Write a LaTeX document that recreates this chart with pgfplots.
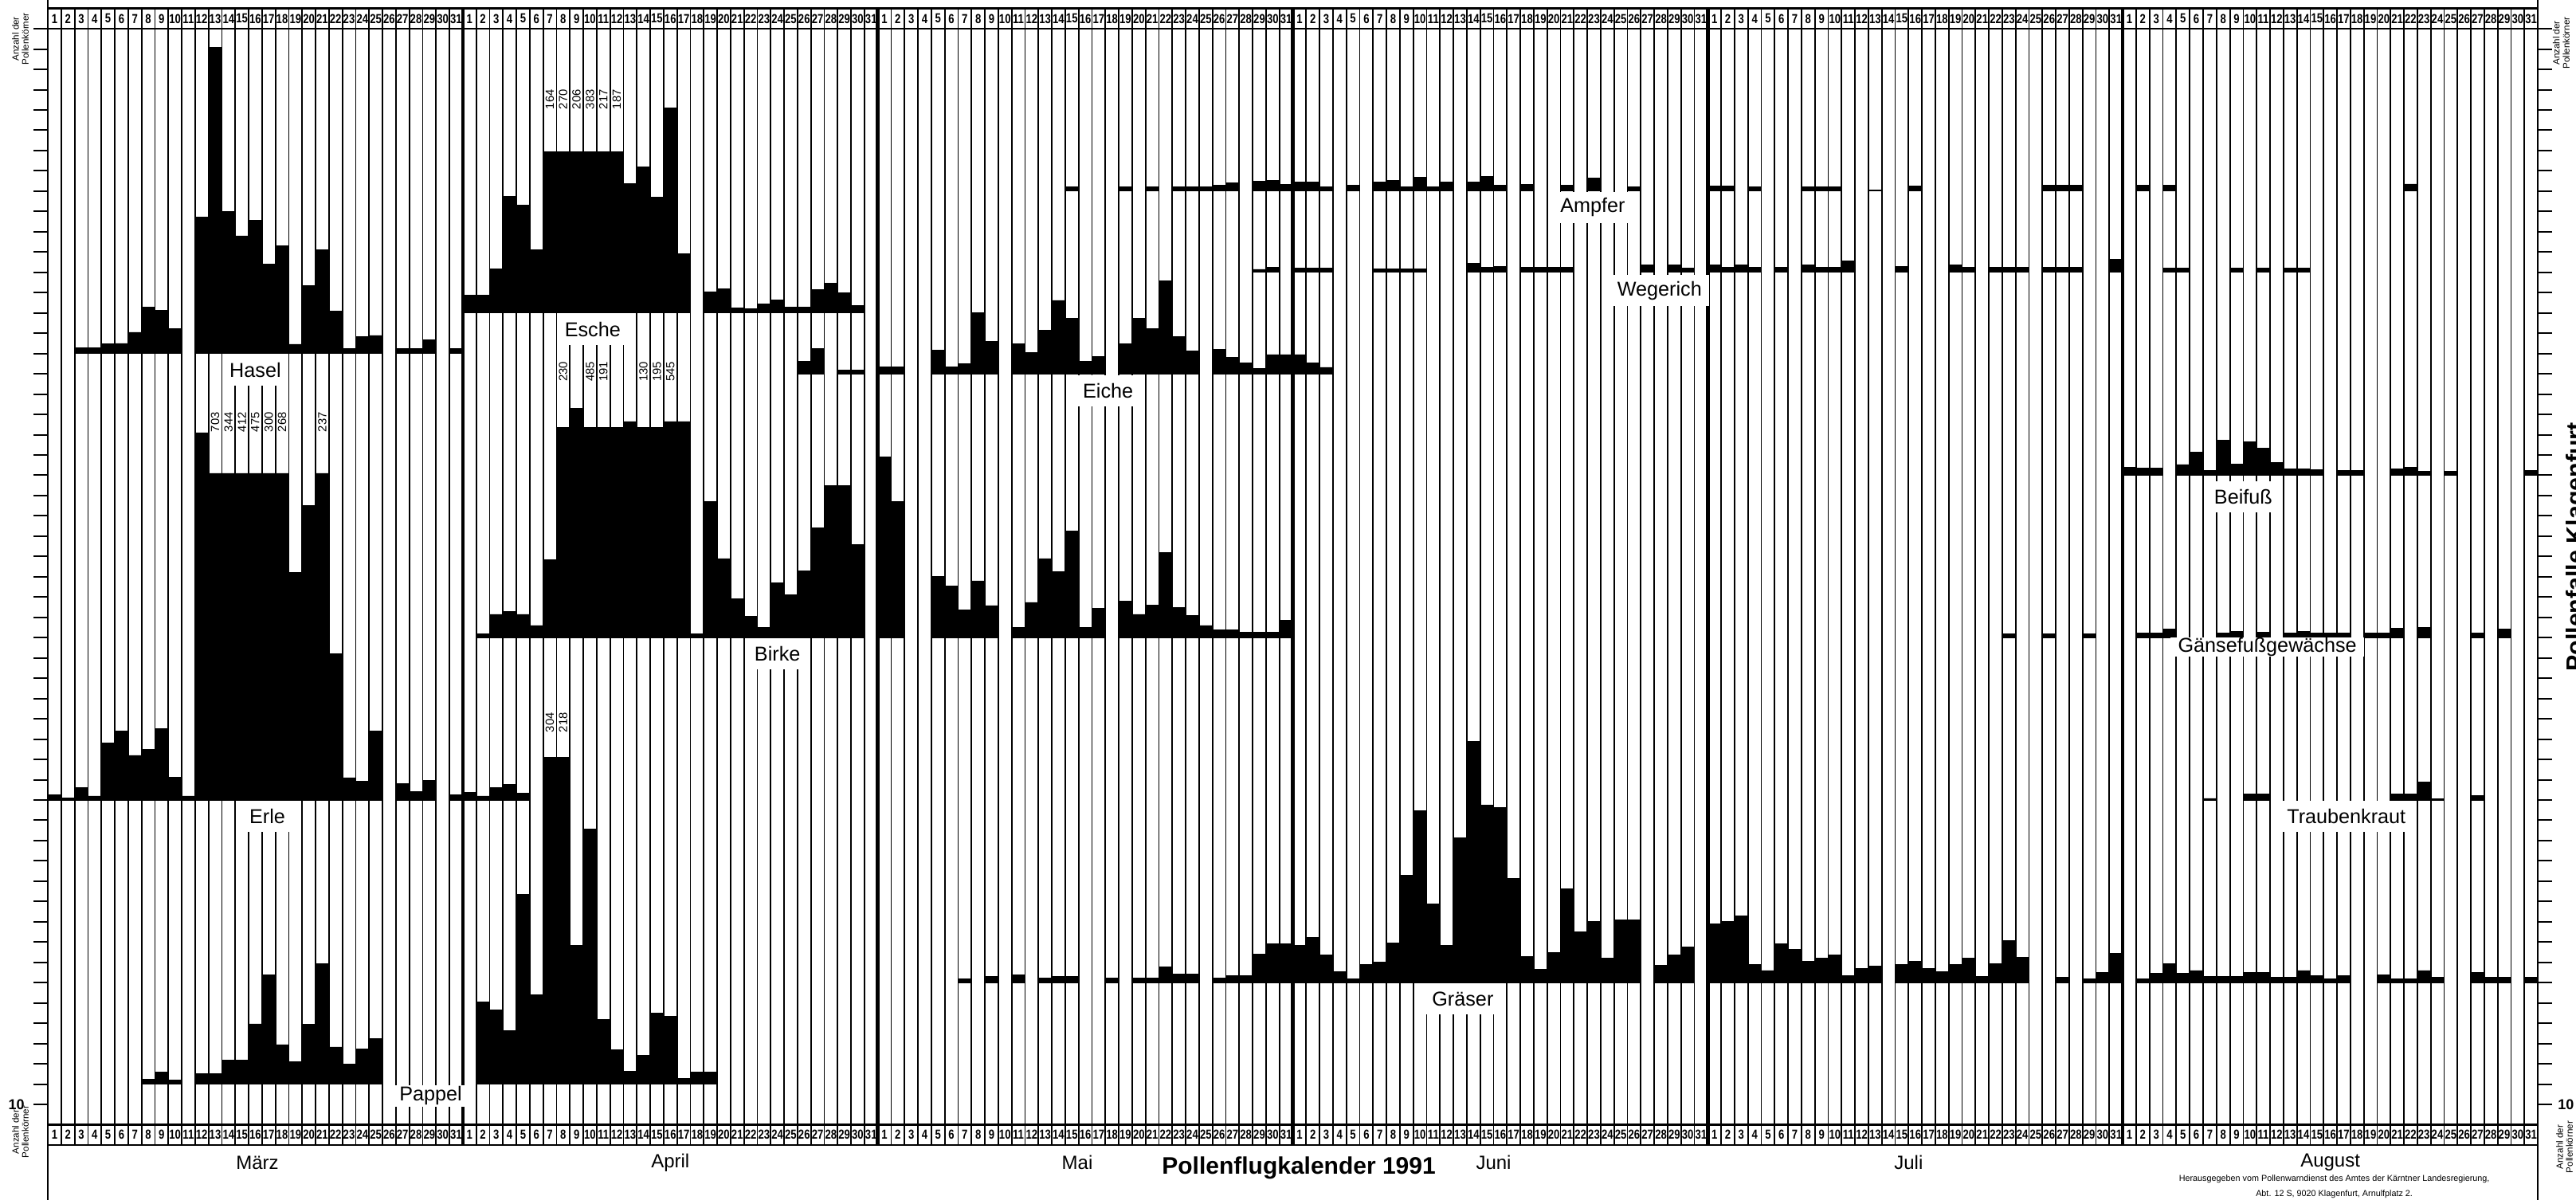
\documentclass[border=0pt]{standalone}
\usepackage{fontspec}
\setmainfont{Liberation Sans}
\newfontfamily\hdrfont[FakeStretch=0.8]{Liberation Sans}
\usepackage{pgfplots}
\pgfplotsset{compat=1.18}
\usepackage{pgfplotstable}

% columns: m = month (0 = Maerz ... 5 = August), d = day, h = bar height (tick units above the row baseline)
\pgfplotstableread{
m d h
0 3 0.29
0 4 0.29
0 5 0.49
0 6 0.5
0 7 1.05
0 8 2.3
0 9 2.12
0 10 1.22
0 12 6.71
0 13 15.1
0 14 6.98
0 15 5.8
0 16 6.56
0 17 4.42
0 18 5.31
0 19 0.46
0 20 3.34
0 21 5.11
0 22 2.1
0 23 0.26
0 24 0.83
0 25 0.89
0 27 0.24
0 28 0.24
0 29 0.68
0 31 0.26
}\hasel
\pgfplotstableread{
m d h
1 1 0.89
1 2 0.89
1 3 2.18
1 4 5.74
1 5 5.32
1 6 3.1
1 7 7.95
1 8 7.95
1 9 7.95
1 10 7.95
1 11 7.95
1 12 7.95
1 13 6.37
1 14 7.19
1 15 5.72
1 16 10.1
1 17 2.9
1 19 1.05
1 20 1.18
1 21 0.23
1 22 0.2
1 23 0.44
1 24 0.63
1 25 0.27
1 26 0.27
1 27 1.14
1 28 1.47
1 29 1.0
1 30 0.38
}\esche
\pgfplotstableread{
m d h
0 1 0.26
0 2 0.1
0 3 0.62
0 4 0.2
0 5 2.8
0 6 3.4
0 7 2.2
0 8 2.5
0 9 3.5
0 10 1.12
0 11 0.2
0 12 18.1
0 13 16.1
0 14 16.1
0 15 16.1
0 16 16.1
0 17 16.1
0 18 16.1
0 19 11.2
0 20 14.5
0 21 16.1
0 22 7.2
0 23 1.1
0 24 0.94
0 25 3.4
0 27 0.79
0 28 0.42
0 29 0.98
0 31 0.26
1 1 0.38
1 2 0.2
1 3 0.6
1 4 0.76
1 5 0.33
}\erle
\pgfplotstableread{
m d h
1 2 0.2
1 3 1.15
1 4 1.28
1 5 1.15
1 6 0.6
1 7 3.85
1 8 10.35
1 9 11.3
1 10 10.35
1 11 10.35
1 12 10.35
1 13 10.65
1 14 10.35
1 15 10.35
1 16 10.65
1 17 10.65
1 18 0.2
1 19 6.7
1 20 3.9
1 21 1.9
1 22 1.05
1 23 0.5
1 24 2.7
1 25 2.1
1 26 3.3
1 27 5.4
1 28 7.5
1 29 7.5
1 30 4.6
2 1 8.9
2 2 6.7
2 5 3.0
2 6 2.55
2 7 1.37
2 8 2.8
2 9 1.58
2 11 0.5
2 12 1.74
2 13 3.9
2 14 3.26
2 15 5.26
2 16 0.5
2 17 1.45
2 19 1.8
2 20 1.15
2 21 1.6
2 22 4.2
2 23 1.5
2 24 1.1
2 25 0.6
2 26 0.4
2 27 0.4
2 28 0.26
2 29 0.26
2 30 0.26
2 31 0.85
}\birke
\pgfplotstableread{
m d h
4 23 0.2
4 26 0.2
4 29 0.2
5 2 0.22
5 3 0.22
5 4 0.41
5 8 0.22
5 9 0.32
5 11 0.28
5 13 0.22
5 14 0.32
5 15 0.22
5 16 0.22
5 17 0.22
5 19 0.22
5 20 0.22
5 21 0.45
5 23 0.5
5 27 0.22
5 29 0.41
}\gaense
\pgfplotstableread{
m d h
5 7 0.08
5 10 0.3
5 11 0.3
5 21 0.28
5 22 0.28
5 23 0.9
5 24 0.06
5 27 0.22
}\trauben
\pgfplotstableread{
m d h
1 26 0.6
1 27 1.24
1 29 0.19
1 30 0.19
2 1 0.34
2 2 0.34
2 5 1.18
2 6 0.34
2 7 0.51
2 8 3.0
2 9 1.6
2 11 1.47
2 12 1.03
2 13 2.15
2 14 3.62
2 15 2.74
2 16 0.61
2 17 0.86
2 19 1.47
2 20 2.74
2 21 2.23
2 22 4.57
2 23 1.85
2 24 1.12
2 26 1.22
2 27 0.8
2 28 0.53
2 29 0.25
2 30 0.95
2 31 0.95
3 1 0.95
3 2 0.53
3 3 0.32
}\eiche
\pgfplotstableread{
m d h
2 15 0.2
2 19 0.2
2 21 0.2
2 23 0.2
2 24 0.2
2 25 0.2
2 26 0.3
2 27 0.4
2 29 0.5
2 30 0.53
2 31 0.34
3 1 0.44
3 2 0.44
3 3 0.2
3 5 0.3
3 7 0.45
3 8 0.53
3 9 0.2
3 10 0.7
3 11 0.23
3 12 0.44
3 14 0.44
3 15 0.72
3 16 0.3
3 18 0.32
3 21 0.3
3 23 0.63
3 26 0.23
4 1 0.25
4 2 0.25
4 4 0.2
4 8 0.2
4 9 0.2
4 10 0.2
4 13 0.06
4 16 0.25
4 26 0.3
4 27 0.3
4 28 0.3
5 2 0.3
5 4 0.28
5 22 0.35
}\ampfer
\pgfplotstableread{
m d h
2 29 0.15
2 30 0.25
3 1 0.2
3 2 0.2
3 3 0.2
3 7 0.17
3 8 0.17
3 9 0.17
3 10 0.17
3 14 0.45
3 15 0.25
3 16 0.3
3 18 0.25
3 19 0.25
3 20 0.25
3 21 0.25
3 27 0.35
3 29 0.35
3 30 0.2
4 1 0.38
4 2 0.25
4 3 0.35
4 4 0.25
4 6 0.25
4 8 0.38
4 9 0.25
4 10 0.25
4 11 0.55
4 15 0.3
4 19 0.36
4 20 0.25
4 22 0.25
4 23 0.25
4 24 0.25
4 26 0.25
4 27 0.25
4 28 0.25
4 31 0.65
5 4 0.2
5 5 0.2
5 9 0.2
5 11 0.2
5 13 0.2
5 14 0.2
}\wegerich
\pgfplotstableread{
m d h
5 1 0.38
5 2 0.34
5 3 0.34
5 5 0.53
5 6 1.13
5 7 0.23
5 8 1.73
5 9 0.56
5 10 1.65
5 11 1.35
5 12 0.62
5 13 0.32
5 14 0.32
5 15 0.28
5 17 0.23
5 18 0.23
5 21 0.32
5 22 0.38
5 23 0.19
5 25 0.19
5 31 0.23
}\beifuss
\pgfplotstableread{
m d h
2 7 0.2
2 9 0.3
2 11 0.38
2 13 0.24
2 14 0.3
2 15 0.3
2 18 0.24
2 20 0.24
2 21 0.24
2 22 0.79
2 23 0.44
2 24 0.44
2 26 0.24
2 27 0.34
2 28 0.34
2 29 1.39
2 30 1.92
2 31 1.92
3 1 1.82
3 2 2.22
3 3 1.35
3 4 0.55
3 5 0.2
3 6 0.89
3 7 1.02
3 8 1.96
3 9 5.3
3 10 8.46
3 11 3.88
3 12 1.82
3 13 7.15
3 14 11.9
3 15 8.73
3 16 8.63
3 17 5.13
3 18 1.29
3 19 0.65
3 20 1.5
3 21 4.63
3 22 2.5
3 23 3.0
3 24 1.21
3 25 3.1
3 26 3.1
3 28 0.85
3 29 1.35
3 30 1.76
4 1 2.9
4 2 3.0
4 3 3.3
4 4 0.9
4 5 0.6
4 6 1.9
4 7 1.65
4 8 1.05
4 9 1.2
4 10 1.35
4 11 0.35
4 12 0.7
4 13 0.8
4 15 0.9
4 16 1.05
4 17 0.7
4 18 0.55
4 19 0.9
4 20 1.2
4 21 0.3
4 22 0.95
4 23 2.06
4 24 1.25
4 27 0.25
4 29 0.2
4 30 0.5
4 31 1.45
5 2 0.2
5 3 0.46
5 4 0.95
5 5 0.46
5 6 0.6
5 7 0.3
5 8 0.3
5 9 0.3
5 10 0.5
5 11 0.5
5 12 0.28
5 13 0.28
5 14 0.6
5 15 0.36
5 16 0.2
5 17 0.33
5 20 0.38
5 21 0.2
5 22 0.2
5 23 0.6
5 24 0.25
5 27 0.5
5 28 0.25
5 29 0.25
5 31 0.25
}\graeser
\pgfplotstableread{
m d h
0 8 0.24
0 9 0.6
0 10 0.21
0 12 0.52
0 13 0.52
0 14 1.2
0 15 1.2
0 16 2.97
0 17 5.4
0 18 1.95
0 19 1.12
0 20 2.94
0 21 5.92
0 22 1.83
0 23 0.97
0 24 1.73
0 25 2.26
1 2 4.05
1 3 3.65
1 4 2.64
1 5 9.35
1 6 4.41
1 7 16.1
1 8 16.1
1 9 6.85
1 10 12.56
1 11 3.2
1 12 1.7
1 13 0.64
1 14 1.42
1 15 3.5
1 16 3.36
1 17 0.29
1 18 0.6
1 19 0.6
}\pappel

\pgfplotsset{
  lay/.style={at={(15pt,-359.25pt)}, anchor=south west, scale only axis,
    width=781.25pt, height=356.58pt, xmin=0, xmax=186, clip=false},
  spc/.style={ybar, bar width=1, fill=black, draw=black, line width=0.2pt},
}
\tikzset{
  hdr/.style={inner sep=0pt, font=\hdrfont\bfseries\fontsize{4.1}{4.5}\selectfont},
  num/.style={rotate=90, anchor=west, inner sep=0pt, font=\fontsize{3.7}{4}\selectfont},
  lab/.style={fill=white, inner xsep=2.4pt, inner ysep=0pt, minimum height=#1,
    font=\fontsize{6.3}{7}\selectfont},
  lab/.default=9.8pt,
  small/.style={rotate=90, align=center, inner sep=0pt, font=\fontsize{2.9}{3.1}\selectfont},
}
% #1 ymin, #2 ymax (row baseline at 0), #3 table
\newcommand\species[3]{%
  \begin{axis}[lay, hide axis, ymin=#1, ymax=#2]
    \addplot[spc] table[x expr=31*\thisrow{m}+\thisrow{d}-0.5, y=h]{#3};
  \end{axis}}

\begin{document}
\begin{tikzpicture}
\useasboundingbox (0,0) rectangle (808.25pt,-376.5pt);
% ---------- frame, day columns, header rows ----------
\begin{axis}[lay, ymin=-2, ymax=54, xtick=\empty,
  ytick={0,...,53}, yticklabels={}, tick align=outside, major tick length=4.5pt,
  tick style={line width=0.5pt, black}, axis line style={line width=0.6pt}]
  \addplot[draw=none] coordinates {(0,0)};
  \pgfplotsinvokeforeach{0,...,186}{\draw[line width=0.45pt] (axis cs:#1,-2) -- (axis cs:#1,54);}
  \pgfplotsinvokeforeach{31,62,93,124,155}{\draw[line width=1.1pt] (axis cs:#1,-2) -- (axis cs:#1,54);}
  \draw[line width=0.6pt] (axis cs:0,53) -- (axis cs:186,53);
  \draw[line width=0.6pt] (axis cs:0,-1) -- (axis cs:186,-1);
  \draw[line width=0.6pt] (axis cs:0,54.42) -- (axis cs:0,-4.72);
  \draw[line width=0.6pt] (axis cs:186,54.42) -- (axis cs:186,-4.72);
  \pgfplotsinvokeforeach{0,...,185}{%
    \node[hdr] at (axis cs:#1.5,53.5) {\pgfmathtruncatemacro\dd{mod(#1,31)+1}\dd};
    \node[hdr] at (axis cs:#1.5,-1.5) {\pgfmathtruncatemacro\dd{mod(#1,31)+1}\dd};
  }
  % months and titles
  \begin{scope}[every node/.style={font=\fontsize{6}{7}\selectfont}]
    \node at (axis cs:15.65,-2.87) {März};
    \node at (axis cs:46.5,-2.87) {April};
    \node at (axis cs:76.9,-2.87) {Mai};
    \node at (axis cs:108.0,-2.87) {Juni};
    \node at (axis cs:139.0,-2.87) {Juli};
    \node at (axis cs:170.5,-2.87) {August};
  \end{scope}
  \node[font=\bfseries\fontsize{7.5}{8}\selectfont] at (axis cs:93.45,-3.14) {Pollenflugkalender 1991};
  \node[font=\fontsize{2.7}{3}\selectfont] at (axis cs:170.8,-3.69) {Herausgegeben vom Pollenwarndienst des Amtes der Kärntner Landesregierung,};
  \node[font=\fontsize{2.7}{3}\selectfont] at (axis cs:170.8,-4.42) {Abt. 12 S, 9020 Klagenfurt, Arnulfplatz 2.};
  % side labels
  \node[small] at (axis cs:-2.05,52.5) {Anzahl der\\Pollenkörner};
  \node[small] at (axis cs:-2.05,-1.35) {Anzahl der\\Pollenkörner};
  \node[small] at (axis cs:187.75,52.3) {Anzahl der\\Pollenkörner};
  \node[small] at (axis cs:188.0,-2.1) {Anzahl der\\Pollenkörner};
  \node[font=\bfseries\fontsize{4.5}{5}\selectfont] at (axis cs:-2.35,0) {10};
  \node[font=\bfseries\fontsize{4.5}{5}\selectfont] at (axis cs:188.1,0) {10};
  \node[rotate=90, anchor=base west, inner sep=0pt, overlay,
        font=\bfseries\fontsize{7.6}{8}\selectfont] at (axis cs:189.45,21.3) {Pollenfalle Klagenfurt};
\end{axis}
% ---------- species rows (each row drawn from its own baseline) ----------
\species{-3}{53}{\pappel}
\species{-8}{48}{\graeser}
\species{-17}{39}{\erle}
\species{-17}{39}{\trauben}
\species{-25}{31}{\birke}
\species{-25}{31}{\gaense}
\species{-33}{23}{\beifuss}
\species{-38}{18}{\eiche}
\species{-39}{17}{\hasel}
\species{-41}{15}{\esche}
\species{-43}{13}{\wegerich}
\species{-47}{9}{\ampfer}
% ---------- labels and overflow values ----------
\begin{axis}[lay, hide axis, ymin=-2, ymax=54]
  \addplot[draw=none] coordinates {(0,0)};
  \node[lab] at (axis cs:15.5,36.2) {Hasel};
  \node[lab] at (axis cs:40.7,38.2) {Esche};
  \node[lab] at (axis cs:16.4,14.2) {Erle};
  \node[lab] at (axis cs:54.5,22.2) {Birke};
  \node[lab=6.7pt] at (axis cs:28.6,0.42) {Pappel};
  \node[lab] at (axis cs:79.2,35.15) {Eiche};
  \node[lab] at (axis cs:115.4,44.2) {Ampfer};
  \node[lab] at (axis cs:120.4,40.1) {Wegerich};
  \node[lab] at (axis cs:105.7,5.2) {Gräser};
  \node[lab] at (axis cs:164.0,29.95) {Beifuß};
  \node[lab=5.9pt] at (axis cs:165.8,22.55) {Gänsefußgewächse};
  \node[lab] at (axis cs:171.7,14.2) {Traubenkraut};
  % Esche
  \node[num] at (axis cs:37.5,49.0) {164};
  \node[num] at (axis cs:38.5,49.0) {270};
  \node[num] at (axis cs:39.5,49.0) {206};
  \node[num] at (axis cs:40.5,49.0) {383};
  \node[num] at (axis cs:41.5,49.0) {217};
  \node[num] at (axis cs:42.5,49.0) {187};
  % Birke
  \node[num] at (axis cs:38.5,35.6) {230};
  \node[num] at (axis cs:40.5,35.6) {485};
  \node[num] at (axis cs:41.5,35.6) {191};
  \node[num] at (axis cs:44.5,35.6) {130};
  \node[num] at (axis cs:45.5,35.6) {195};
  \node[num] at (axis cs:46.5,35.6) {545};
  % Erle
  \node[num] at (axis cs:12.5,33.1) {703};
  \node[num] at (axis cs:13.5,33.1) {344};
  \node[num] at (axis cs:14.5,33.1) {412};
  \node[num] at (axis cs:15.5,33.1) {475};
  \node[num] at (axis cs:16.5,33.1) {300};
  \node[num] at (axis cs:17.5,33.1) {268};
  \node[num] at (axis cs:20.5,33.1) {237};
  % Pappel
  \node[num] at (axis cs:37.5,18.3) {304};
  \node[num] at (axis cs:38.5,18.3) {218};
\end{axis}
\end{tikzpicture}
\end{document}
